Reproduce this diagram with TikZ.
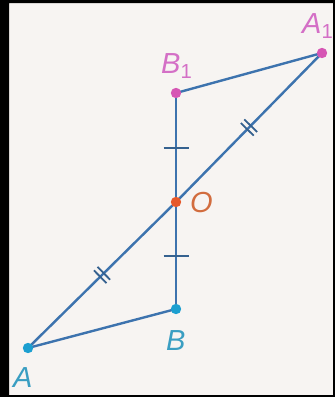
\documentclass[tikz,border=0pt]{standalone}
\usepackage{fontspec}
\setmainfont{Liberation Sans}
\usetikzlibrary{decorations.markings}
\definecolor{paper}{HTML}{F7F4F2}
\definecolor{segblue}{HTML}{3D73AE}
\definecolor{tickblue}{HTML}{35618F}
\definecolor{dotcyan}{HTML}{1C9FD0}
\definecolor{labcyan}{HTML}{3A9EC2}
\definecolor{dotpink}{HTML}{D655B4}
\definecolor{labpink}{HTML}{D46FC6}
\definecolor{dotorange}{HTML}{E6582A}
\definecolor{laborange}{HTML}{D26C3E}
\tikzset{
  seg/.style={segblue, line width=2.4pt},
  onetick/.style={postaction={decorate}, decoration={markings,
    mark=at position 0.5 with {\draw[tickblue, line width=2pt] (0,-12.5pt) -- (0,12.5pt);}}},
  twotick/.style={postaction={decorate}, decoration={markings,
    mark=at position 0.5 with {\draw[tickblue, line width=1.8pt] (-2.5pt,-9pt) -- (-2.5pt,9pt) (2.5pt,-9pt) -- (2.5pt,9pt);}}},
  lbl/.style={anchor=base west, inner sep=0pt, font=\fontsize{29}{29}\selectfont\itshape}
}
\begin{document}
\begin{tikzpicture}[x=1pt, y=-1pt]
        \useasboundingbox (0,0) rectangle (335,397);
        \fill[paper] (0,0) rectangle (335,397);

        % Các điểm
        \coordinate (A) at (28,348);
        \coordinate (B) at (176,309);
        \coordinate (O) at (176,202);
        \coordinate (B1) at (176,93);
        \coordinate (A1) at (322,53);

        % Các đoạn thẳng
        \draw[seg] (A) -- (B);
        \draw[seg] (B1) -- (A1);
        \draw[seg, onetick] (B1) -- (O);
        \draw[seg, onetick] (O) -- (B);
        \draw[seg, twotick] (O) -- (A1);
        \draw[seg, twotick] (O) -- (A);

        % Chấm tròn
        \fill[dotcyan] (A) circle (5.2pt);
        \fill[dotcyan] (B) circle (5.2pt);
        \fill[dotpink] (B1) circle (5.2pt);
        \fill[dotpink] (A1) circle (5.2pt);
        \fill[dotorange] (O) circle (5.2pt);

        % Nhãn
        \node[lbl, text=labcyan] (labA) at (13,387) {A};
        \node[lbl, text=labcyan] (labB) at (166,350) {B};
        \node[lbl, text=laborange] (labO) at (190,212) {O};
        \node[lbl, text=labpink] (labB1) at (161,73) {B\textsubscript{\upshape 1}};
        \node[lbl, text=labpink] (labA1) at (302,33) {A\textsubscript{\upshape 1}};

        % Viền đen
        \fill[black, even odd rule] (0,0) rectangle (335,397) (9,3) rectangle (333,395);
    \end{tikzpicture}
\end{document}
